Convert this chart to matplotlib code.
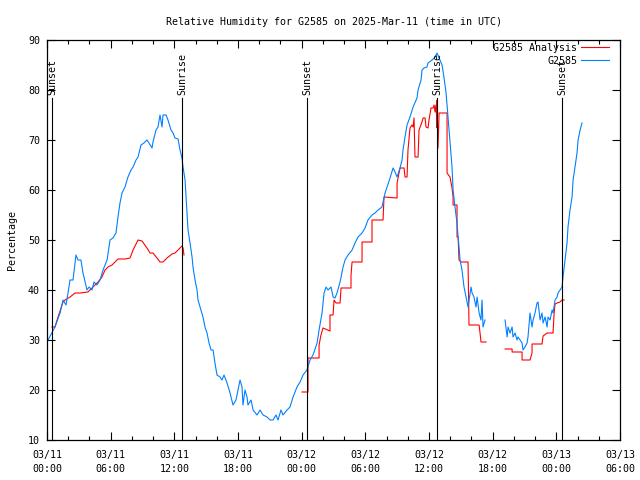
import numpy as np
import pandas as pd
import matplotlib
matplotlib.use("Agg")
from matplotlib import pyplot as plt
import matplotlib.dates as mdates
from matplotlib.ticker import MultipleLocator

# hours since 2025-03-11 00:00 UTC
obs_hours = [0.1, 0.75, 1.23, 1.51, 1.79, 1.98, 2.17, 2.45, 2.73, 2.92, 3.20, 3.39, 3.77, 3.96,
             4.24, 4.43, 4.71, 5.00, 5.28, 5.66, 5.94, 6.22, 6.50, 6.69, 6.88, 7.07, 7.35, 7.63,
             7.92, 8.11, 8.39, 8.58, 8.86, 9.14, 9.42, 9.61, 9.90, 9.99, 10.27, 10.46, 10.65,
             10.84, 10.93, 11.22, 11.40, 11.69, 11.88, 12.06, 12.35, 12.54, 12.72, 12.82, 13.01,
             13.19, 13.29, 13.48, 13.67, 13.76, 13.95, 14.14, 14.23, 14.51, 14.70, 14.89, 15.08,
             15.27, 15.46, 15.65, 15.83, 16.02, 16.31, 16.49, 16.68, 16.97, 17.25, 17.53, 17.81,
             18.00, 18.19, 18.38, 18.47, 18.66, 18.85, 18.94, 19.23, 19.42, 19.79, 20.08, 20.36,
             20.74, 21.02, 21.30, 21.58, 21.77, 22.05, 22.24, 22.62, 22.90, 23.19, 23.56, 23.85,
             24.13, 24.50, 24.79, 25.07, 25.45, 25.64, 25.92, 26.11, 26.30, 26.48, 26.77, 26.96,
             27.14, 27.33, 27.62, 27.90, 28.09, 28.37, 28.75, 29.03, 29.31, 29.69, 29.97, 30.25,
             30.63, 30.91, 31.20, 31.57, 31.67, 31.86, 32.05, 32.33, 32.61, 32.80, 32.99, 33.27,
             33.46, 33.55, 33.74, 33.93, 34.21, 34.50, 34.87, 34.97, 35.25, 35.34, 35.53, 35.81,
             35.91, 36.29, 36.57, 36.76, 36.95, 37.23, 37.42, 37.61, 37.79, 37.98, 38.17, 38.27,
             38.45, 38.64, 38.83, 38.93, 39.11, 39.30, 39.49, 39.68, 39.96, 40.06, 40.24, 40.43,
             40.53, 40.72, 40.90, 41.00, 41.09, 41.28, 42.2,
             43.17, 43.36, 43.45, 43.64, 43.83, 43.92, 44.11, 44.30, 44.39, 44.58, 44.77, 44.86,
             45.05, 45.24, 45.33, 45.52, 45.71, 45.81, 45.99, 46.18, 46.28, 46.47, 46.65, 46.75,
             46.94, 47.13, 47.22, 47.41, 47.60, 47.69, 47.88, 48.07, 48.16, 48.35, 48.54, 48.63,
             48.82, 49.01, 49.10, 49.29, 49.48, 49.58, 49.76, 49.95, 50.05, 50.24, 50.42]
obs_rh = [30, 32.6, 35.4, 38, 37, 39.4, 42, 42, 47, 46, 46, 43.4, 40, 40.6,
          40, 41.6, 41, 42, 44, 46, 50, 50.4, 51.4, 54.6, 57.4, 59.4, 60.6, 62.6,
          64, 64.6, 66, 66.6, 69, 69.4, 70, 69.4, 68.4, 69.6, 72, 72.6, 75,
          72.6, 75, 75, 74, 72, 71.4, 70.4, 70.2, 68, 66.4, 64.6, 62,
          55.4, 52, 49.4, 46.6, 44.6, 42, 40, 38, 36, 34.6, 32.6, 31.4,
          29.4, 28, 28, 25.4, 23, 22.6, 22, 23, 21.4, 19.4, 17, 18,
          20, 22, 20.6, 17, 20, 18.6, 17, 18, 16, 15, 16, 15,
          14.6, 14, 14, 15, 14, 16, 15, 16, 16.6, 18.6, 20.6, 21.6,
          23, 24, 26, 27, 29.4, 32, 35.4, 39.4, 40.6, 40, 40.6, 38.6,
          38.4, 39.4, 41.6, 44.6, 46, 47, 48, 49.4, 50.6, 51.4, 52.4, 54,
          55, 55.4, 56, 56.6, 57.6, 59.4, 60.6, 62.4, 64.4, 63.6, 62.6, 64.4,
          66, 68, 70.6, 73, 74.6, 76.6, 78.4, 80, 82, 84, 84.4, 84.6,
          85.4, 86, 86.6, 87.4, 86.4, 85, 82.4, 79.4, 74.6, 69.4, 64.6, 60,
          56.6, 53.4, 48.6, 46, 44, 40.6, 38.6, 36.6, 40.6, 39.4, 38.6, 36.6,
          38.6, 35.4, 34, 38, 32.6, 34, np.nan,
          34, 30.6, 32.6, 31.4, 32.6, 30.6, 31.4, 30, 30.6, 30, 29.4, 28,
          28.6, 29.4, 30.6, 35.4, 32.6, 34, 35.4, 37.4, 37.6, 34, 35.4, 33.4,
          34.6, 32.6, 34.6, 34, 36, 35.4, 38, 38.6, 39.4, 40, 40.6, 42.6,
          46, 49.4, 52.6, 56, 58.6, 62, 64.6, 67.4, 70, 72, 73.4]

ana_hours = [0.47, 0.75, 1.04, 1.51, 1.70, 2.17, 2.64, 3.11, 3.86, 4.24, 4.52, 4.81, 5.18, 5.47,
             5.75, 6.13, 6.41, 6.69, 7.35, 7.82, 8.11, 8.58, 8.95, 9.42, 9.71, 9.99, 10.37,
             10.65, 10.93, 11.31, 11.78, 12.06, 12.35, 12.72, 12.82, 12.91, 18.0,
             24.03, 24.60, 24.60, 25.64, 25.64, 25.82, 26.01, 26.67, 26.67, 26.96, 27.05, 27.24,
             27.62, 27.71, 28.65, 28.65, 28.75, 29.69, 29.69, 30.63, 30.63, 31.67, 31.76, 32.99,
             32.99, 33.27, 33.65, 33.74, 33.93, 34.02, 34.21, 34.40, 34.50, 34.59, 34.68, 34.97,
             35.06, 35.34, 35.44, 35.63, 35.72, 35.91, 36.00, 36.19, 36.38, 36.48, 36.57, 36.66,
             36.76, 36.76, 36.85, 36.95, 37.70, 37.70, 37.98, 38.17, 38.27, 38.27, 38.64, 38.64,
             38.74, 38.83, 39.02, 39.68, 39.77, 40.72, 40.81, 40.90, 41.38, 42.2,
             43.17, 43.83, 43.83, 44.77, 44.77, 45.52, 45.71, 45.71, 46.65, 46.75, 47.13, 47.69,
             47.79, 47.88, 48.07, 48.35, 48.54, 48.73]
ana_rh = [32.6, 32.6, 34.6, 37.6, 38, 38.6, 39.4, 39.4, 39.6, 40.4, 41, 41.6, 42.6, 44,
          44.6, 45, 45.6, 46.2, 46.2, 46.4, 48, 50, 49.8, 48.4, 47.4, 47.4, 46.4,
          45.6, 45.6, 46.4, 47.2, 47.4, 48, 48.8, 48.4, 47, np.nan,
          19.6, 19.6, 26.4, 26.4, 29, 31, 32.4, 31.8, 35, 35, 38, 37.4,
          37.4, 40.4, 40.4, 43, 45.6, 45.6, 49.6, 49.6, 54, 54, 58.6, 58.4,
          61.4, 64.4, 64.4, 62.6, 62.6, 68, 72.4, 73, 72.6, 74.4, 66.6, 66.6,
          72, 73.6, 74.4, 74.4, 72.6, 72.4, 74, 76.4, 76.4, 77, 75.6, 77,
          72.4, 78, 68.4, 75.4, 75.4, 63.4, 62.6, 60.4, 58.6, 57, 57, 50.6,
          50.6, 46, 45.6, 45.6, 33, 33, 31.4, 29.6, 29.6, np.nan,
          28.2, 28.2, 27.6, 27.6, 26, 26, 27.4, 29.2, 29.2, 30.8, 31.4, 31.4,
          35.4, 37.2, 37.4, 37.6, 38, 38]

sun_hours = [0.47, 12.72, 24.50, 36.76, 48.54]
sun_labels = ["Sunset", "Sunrise", "Sunset", "Sunrise", "Sunset"]

start = pd.Timestamp("2025-03-11 00:00")


def to_time(hours):
    return start + pd.to_timedelta(hours, unit="h")


mono = "DejaVu Sans Mono"
fs = 7.2
plt.rcParams["font.family"] = mono
plt.rcParams["font.size"] = fs

fig = plt.figure(figsize=(6.4, 4.8), dpi=100)
ax = fig.add_axes([47 / 640, 40 / 480, 573 / 640, 400 / 480])

ax.plot(to_time(ana_hours), ana_rh, color="#ff0000", lw=0.8, label="G2585 Analysis")
ax.plot(to_time(obs_hours), obs_rh, color="#0080ff", lw=0.8, label="G2585")

for h, lab in zip(sun_hours, sun_labels):
    t = to_time(h)
    ax.plot([t, t], [10, 78.4], color="black", lw=0.8)
    ax.text(t, 79, lab, rotation=90, ha="center", va="bottom", fontsize=fs)

ax.set_xlim(start, to_time(54))
ax.set_ylim(10, 90)
ax.xaxis.set_major_locator(mdates.HourLocator(byhour=[0, 6, 12, 18]))
ax.xaxis.set_minor_locator(mdates.HourLocator(byhour=range(0, 24, 2)))
ax.xaxis.set_major_formatter(mdates.DateFormatter("%m/%d\n%H:%M"))
ax.yaxis.set_major_locator(MultipleLocator(10))
ax.tick_params(which="both", direction="in", top=True, right=True, width=0.8)
ax.tick_params(which="major", length=6, pad=7)
ax.tick_params(which="minor", length=3)
ax.tick_params(axis="y", pad=5)
for s in ax.spines.values():
    s.set_linewidth(0.9)

ax.set_ylabel("Percentage", labelpad=8)
ax.set_title("Relative Humidity for G2585 on 2025-Mar-11 (time in UTC)", fontsize=fs, pad=11)

leg = ax.legend(loc="upper right", bbox_to_anchor=(1 - 5 / 573, 1 + 3 / 400), frameon=False,
                markerfirst=False, handlelength=2.8, borderaxespad=0.2, labelspacing=0.3,
                handletextpad=0.4)
for t in leg.get_texts():
    t.set_ha("right")

fig.canvas.draw()
plt.setp(ax.get_xticklabels(), linespacing=1.5)

fig.savefig("out.png", dpi=100)
